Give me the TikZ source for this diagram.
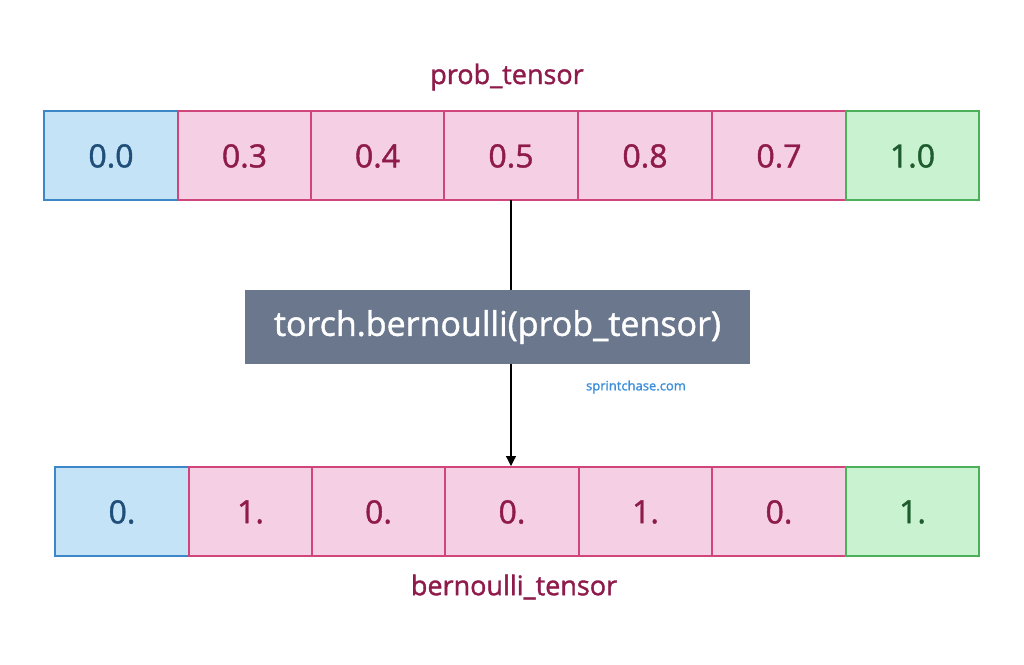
\documentclass[tikz,border=0pt]{standalone}
\usepackage{fontspec}
\setmainfont{Open Sans}
\newfontfamily\semi{Open Sans}[FakeBold=1.3]
\usetikzlibrary{arrows.meta}
\definecolor{mag}{HTML}{8E1B4B}
\definecolor{magline}{HTML}{D0457A}
\definecolor{magfill}{HTML}{F5CFE4}
\definecolor{bluefill}{HTML}{C5E3F7}
\definecolor{blueline}{HTML}{3D87C9}
\definecolor{bluetext}{HTML}{1F4E79}
\definecolor{greenfill}{HTML}{C8F2D0}
\definecolor{greenline}{HTML}{4CAF5A}
\definecolor{greentext}{HTML}{1E5C2E}
\definecolor{slate}{HTML}{6B778D}
\definecolor{link}{HTML}{3B8EDB}
\tikzset{
 cell/.style={draw=magline,fill=magfill,line width=1.2pt},
 bcell/.style={draw=blueline,fill=bluefill,line width=1.2pt},
 gcell/.style={draw=greenline,fill=greenfill,line width=1.2pt},
 num/.style={font=\semi\fontsize{32}{36}\selectfont},
 lab/.style={text=mag,font=\semi\fontsize{27}{30}\selectfont},
}
\begin{document}
\begin{tikzpicture}[x=1pt,y=-1pt]
\useasboundingbox (0,0) rectangle (1024,664);
\fill[white] (0,0) rectangle (1024,664);
% top row
\def\ya{111}\def\yb{200}
\draw[bcell] (44,\ya) rectangle (178,\yb);
\foreach \a/\b in {178/311,311/444,444/578,578/712,712/846} \draw[cell] (\a,\ya) rectangle (\b,\yb);
\draw[gcell] (846,\ya) rectangle (979,\yb);
\node[num,text=bluetext] (t1) at (111,156) {0.0};
\node[num,text=mag] (t2) at (244.5,156) {0.3};
\node[num,text=mag] (t3) at (377.5,156) {0.4};
\node[num,text=mag] (t4) at (511,156) {0.5};
\node[num,text=mag] (t5) at (645,156) {0.8};
\node[num,text=mag] (t6) at (779,156) {0.7};
\node[num,text=greentext] (t7) at (912.5,156) {1.0};
\node[lab] (lt) at (507,77) {prob\_tensor};
% bottom row
\def\yc{467}\def\yd{556}
\draw[bcell] (55,\yc) rectangle (189,\yd);
\foreach \a/\b in {189/312,312/445,445/579,579/712,712/846} \draw[cell] (\a,\yc) rectangle (\b,\yd);
\draw[gcell] (846,\yc) rectangle (979,\yd);
\node[num,text=bluetext] (b1) at (122,512) {0.};
\node[num,text=mag] (b2) at (250.5,512) {1.};
\node[num,text=mag] (b3) at (378.5,512) {0.};
\node[num,text=mag] (b4) at (512,512) {0.};
\node[num,text=mag] (b5) at (645.5,512) {1.};
\node[num,text=mag] (b6) at (779,512) {0.};
\node[num,text=greentext] (b7) at (912.5,512) {1.};
\node[lab] (lb) at (514,587) {bernoulli\_tensor};
% arrow
\coordinate (s) at (511,200);
\coordinate (e) at (511,466);
\draw[line width=1.2pt,-{Triangle[length=10pt,width=10pt]}] (s) -- (e);
\node[fill=slate,text=white,minimum width=505pt,minimum height=74pt,inner sep=0pt,font=\semi\fontsize{34}{38}\selectfont] (f) at (497.5,327) {torch.bernoulli(prob\_tensor)};
\node[text=link,font=\semi\fontsize{13}{15}\selectfont] (w) at (636,387) {sprintchase.com};
\end{tikzpicture}
\end{document}
